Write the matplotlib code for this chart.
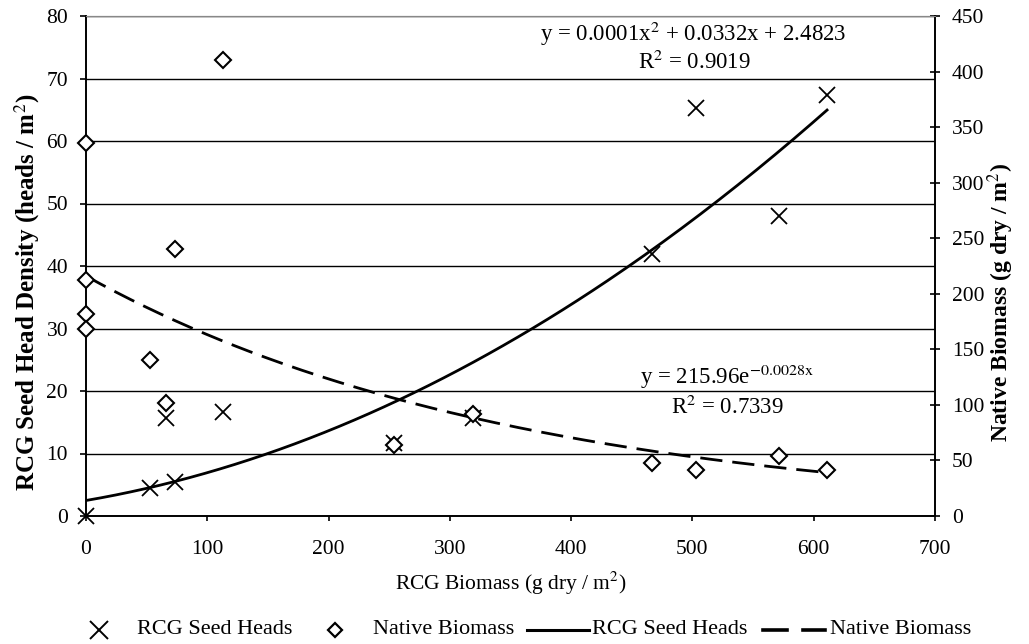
import numpy as np
import matplotlib
matplotlib.use('Agg')
import matplotlib.pyplot as plt
from matplotlib.lines import Line2D

plt.rcParams['font.family'] = ['Liberation Serif', 'DejaVu Serif']
plt.rcParams['mathtext.fontset'] = 'stix'

# RCG seed heads (left axis)
seed_x = [0, 53, 73, 66, 113, 254, 319, 467, 503, 571, 611]
seed_y = [0, 4.5, 5.4, 15.7, 16.6, 11.7, 15.7, 41.9, 65.3, 48.0, 67.4]

# native biomass (right axis)
nat_x = [0, 0, 0, 0, 53, 66, 73, 113, 254, 319, 467, 503, 571, 611]
nat_y = [336, 212, 182, 168, 140, 102, 240, 410, 64, 92, 48, 41, 54, 41]

# trendline coefficients (as shown on the chart, quadratic term unrounded)
quad_coef = [0.000113, 0.0332, 2.4823]
exp_a, exp_b = 215.96, -0.0028

xticks = [0, 100, 200, 300, 400, 500, 600, 700]
left_ticks = [0, 10, 20, 30, 40, 50, 60, 70, 80]
right_ticks = [0, 50, 100, 150, 200, 250, 300, 350, 400, 450]

W, H = 1029, 644
fig = plt.figure(figsize=(W / 100, H / 100), dpi=100)
ax = fig.add_axes([86 / W, 1 - 516 / H, 849 / W, 500 / H])
ax2 = ax.twinx()

xs = np.linspace(0, max(seed_x), 200)
ax.plot(xs, np.polyval(quad_coef, xs), color='black', lw=2, zorder=3)
ax2.plot(xs, exp_a * np.exp(exp_b * xs), color='black', lw=2, dashes=(8, 3.6), zorder=3)

ax.plot(seed_x, seed_y, 'x', color='black', ms=12, mew=1.3, ls='none', clip_on=False, zorder=4)
ax2.plot(nat_x, nat_y, 'D', mfc='white', mec='black', ms=8, mew=1.5, ls='none', clip_on=False, zorder=4)

ax.set_xlim(0, 700)
ax.set_ylim(0, 80)
ax2.set_ylim(0, 450)
ax.set_xticks(xticks)
ax.set_yticks(left_ticks)
ax2.set_yticks(right_ticks)
ax.grid(axis='y', color='black', lw=1)
ax.set_axisbelow(True)

for a in (ax, ax2):
    a.spines['top'].set_color('#888888')
    for s in ('left', 'right', 'bottom'):
        a.spines[s].set_linewidth(1.2)
ax.tick_params(axis='y', labelsize=15.5, length=4.3, width=1.2, direction='out', pad=8.6)
ax.tick_params(axis='x', labelsize=15.5, length=3.6, width=1.2, direction='out', pad=13.5)
ax2.tick_params(labelsize=15.5, length=7, width=1.2, direction='inout', pad=8.6)

ax.set_ylabel('RCG Seed Head Density (heads / m$^2$)', fontsize=18, fontweight='bold',
              va='center', ha='center')
ax.yaxis.set_label_coords(-0.0695, 0.448)
ax2.set_ylabel('Native Biomass (g dry / m$^2$)', fontsize=17, fontweight='bold',
               va='center', ha='center')
ax2.yaxis.set_label_coords(1.077, 0.428)
ax.set_xlabel('RCG Biomass (g dry / m$^2$)', fontsize=15.5, va='center')
ax.xaxis.set_label_coords(0.5, -0.134)

def fx(px):
    return px / W

def fy(py):
    return 1 - py / H

fig.text(fx(693), fy(34), 'y = 0.0001x$^2$ + 0.0332x + 2.4823', ha='center', va='center', fontsize=16.5)
fig.text(fx(694), fy(62), 'R$^2$ = 0.9019', ha='center', va='center', fontsize=16.5)
fig.text(fx(727), fy(377), 'y = 215.96e$^{\\mathrm{-0.0028x}}$', ha='center', va='center', fontsize=16.5)
fig.text(fx(727), fy(407), 'R$^2$ = 0.7339', ha='center', va='center', fontsize=16.5)

# legend drawn by hand to match the spreadsheet layout
ly = fy(630)
fig.add_artist(Line2D([fx(99)], [ly], marker='x', color='black', ms=13, mew=1.4, ls='none'))
fig.text(fx(137), ly, 'RCG Seed Heads', ha='left', va='center', fontsize=16)
fig.add_artist(Line2D([fx(335)], [ly], marker='D', mfc='white', mec='black', ms=7.5, mew=1.6, ls='none'))
fig.text(fx(373), ly, 'Native Biomass', ha='left', va='center', fontsize=16)
fig.add_artist(Line2D([fx(527), fx(589)], [ly, ly], color='black', lw=2.2))
fig.text(fx(592), ly, 'RCG Seed Heads', ha='left', va='center', fontsize=16)
fig.add_artist(Line2D([fx(763), fx(787)], [ly, ly], color='black', lw=2.6))
fig.add_artist(Line2D([fx(803), fx(825)], [ly, ly], color='black', lw=2.6))
fig.text(fx(830), ly, 'Native Biomass', ha='left', va='center', fontsize=16)

fig.savefig('out.png', dpi=100)
